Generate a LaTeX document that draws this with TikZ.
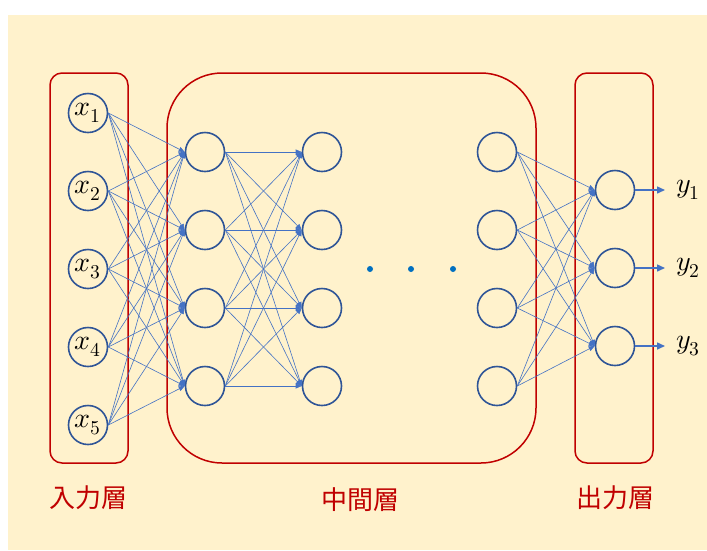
\documentclass[tikz,border=0pt]{standalone}
\usepackage{fontspec}
\usepackage{unicode-math}
\newfontfamily\jpfont{Noto Sans CJK JP}
\usetikzlibrary{arrows.meta}
\definecolor{bgyellow}{HTML}{FFF2CC}
\definecolor{boxred}{HTML}{C00000}
\definecolor{ringblue}{HTML}{2F5597}
\definecolor{edgeblue}{HTML}{4472C4}
\definecolor{dotblue}{HTML}{0070C0}

\begin{document}
\begin{tikzpicture}[x=1pt, y=-1pt,
    neuron/.style={circle, draw=ringblue, line width=1.6pt, minimum size=39pt, inner sep=0pt, font=\fontsize{28}{32}\selectfont},
    link/.style={edgeblue, line width=0.6pt, -{Triangle[length=6pt,width=5pt]}},
    outlink/.style={edgeblue, line width=1.5pt, -{Triangle[length=8pt,width=7pt]}},
    outname/.style={anchor=west, inner sep=0pt, outer xsep=11pt, font=\fontsize{28}{32}\selectfont},
    layerbox/.style={draw=boxred, line width=1.5pt},
    layername/.style={text=boxred, font=\jpfont\fontsize{26}{30}\selectfont}]
    \useasboundingbox (0,0) rectangle (707,550);
    \fill [bgyellow] (8,15) rectangle (707,550);

    % layer boxes
    \draw [layerbox, rounded corners=12pt] (50,73) rectangle (128,463);
    \draw [layerbox, rounded corners=55pt] (167,73) rectangle (536,463);
    \draw [layerbox, rounded corners=12pt] (575,73) rectangle (653,463);

    % neurons
    \foreach \i/\y in {1/113, 2/191, 3/269, 4/347, 5/425}
        \node (x\i) [neuron] at (88,\y) {$x_\i$};
    \foreach \i/\y in {1/152, 2/230, 3/308, 4/386} {
        \node (a\i) [neuron] at (205,\y) {};
        \node (b\i) [neuron] at (322,\y) {};
        \node (c\i) [neuron] at (497,\y) {};
    }
    \foreach \i/\y in {1/190, 2/268, 3/346} {
        \node (o\i) [neuron] at (615,\y) {};
        \node (y\i) [outname] at (665,\y) {$y_\i$};
    }

    % connections
    \foreach \i in {1,...,5}
        \foreach \j in {1,...,4}
            \draw [link] (x\i.east) -- (a\j.west);
    \foreach \i in {1,...,4}
        \foreach \j in {1,...,4}
            \draw [link] (a\i.east) -- (b\j.west);
    \foreach \i in {1,...,4}
        \foreach \j in {1,2,3}
            \draw [link] (c\i.east) -- (o\j.west);
    \foreach \i in {1,2,3}
        \draw [outlink] (o\i) -- (y\i);

    % dots
    \foreach \x in {370,411,453}
        \fill [dotblue] (\x,269) circle (3pt);

    % labels
    \node (inname) [layername] at (88,498) {入力層};
    \node (midname) [layername] at (360,500) {中間層};
    \node (outname) [layername] at (615,498) {出力層};
\end{tikzpicture}
\end{document}
